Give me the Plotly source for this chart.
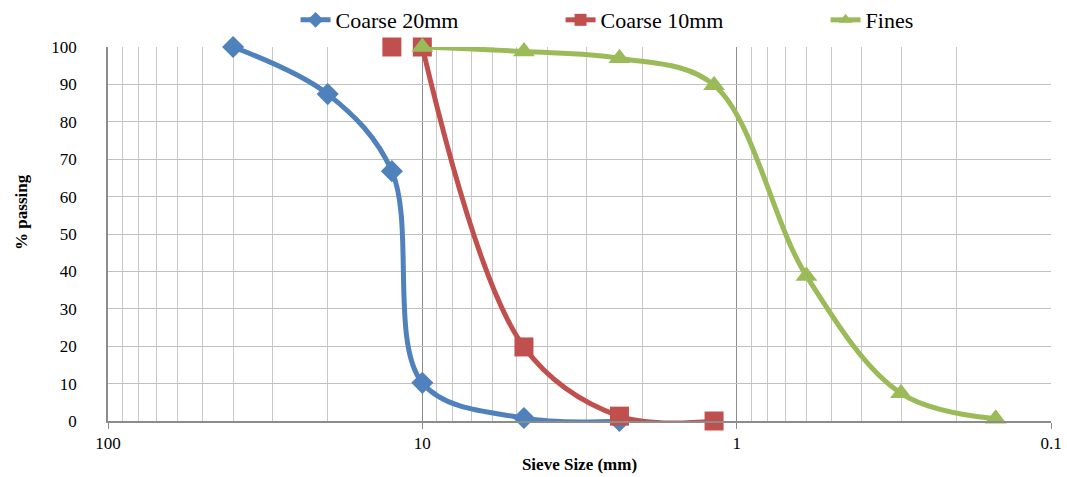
import plotly.graph_objects as go

# Data
sizes_c20 = [40, 20, 12.5, 10, 4.75, 2.36]
pass_c20 = [100, 87.4, 66.8, 10.2, 0.8, 0]

sizes_c10 = [12.5, None, 10, 4.75, 2.36, 1.18]
pass_c10 = [100, None, 100, 19.8, 1.3, 0]

sizes_fines = [10, 4.75, 2.36, 1.18, 0.6, 0.3, 0.15]
pass_fines = [100, 98.8, 97, 89.8, 38.8, 7.4, 0.6]

x_tick_vals = [100, 10, 1, 0.1]
x_tick_text = ["100", "10", "1", "0.1"]

FONT = "Liberation Serif"
BLUE = "#4F81BD"
RED = "#C0504D"
GREEN = "#9BBB59"

fig = go.Figure()
fig.add_trace(go.Scatter(
    x=sizes_c20, y=pass_c20, name="Coarse 20mm", mode="lines+markers",
    line=dict(color=BLUE, width=5, shape="spline", smoothing=1.0),
    marker=dict(symbol="diamond", size=17, color=BLUE), cliponaxis=False,
))
fig.add_trace(go.Scatter(
    x=sizes_c10, y=pass_c10, name="Coarse 10mm", mode="lines+markers",
    line=dict(color=RED, width=5, shape="spline", smoothing=1.0),
    marker=dict(symbol="square", size=19, color=RED),
    connectgaps=False, cliponaxis=False,
))
fig.add_trace(go.Scatter(
    x=sizes_fines, y=pass_fines, name="Fines", mode="lines+markers",
    line=dict(color=GREEN, width=5, shape="spline", smoothing=1.0),
    marker=dict(symbol="triangle-up", size=19, color=GREEN), cliponaxis=False,
))

minor_vals = [m * 10 ** e for e in (1, 0, -1) for m in range(2, 10)]

fig.update_layout(
    width=1067, height=477,
    paper_bgcolor="white", plot_bgcolor="white",
    margin=dict(l=108, r=16, t=47, b=56, autoexpand=False),
    font=dict(family=FONT, size=17, color="black"),
    legend=dict(orientation="h", x=0.277, xanchor="left", y=0.958, yanchor="middle",
                yref="container", xref="container",
                font=dict(family=FONT, size=22), itemsizing="constant",
                entrywidth=220, entrywidthmode="pixels",
                bgcolor="rgba(0,0,0,0)", traceorder="normal"),
    showlegend=True,
    annotations=[dict(text="<b>% passing</b>", textangle=-90, showarrow=False,
                      xref="paper", yref="paper", x=-0.0912, y=0.559,
                      xanchor="center", yanchor="middle",
                      font=dict(family=FONT, size=17))],
)
fig.update_xaxes(
    type="log", range=[2, -1], automargin=False,
    tickvals=x_tick_vals, ticktext=x_tick_text,
    showgrid=True, gridcolor="#8C8C8C", gridwidth=1,
    minor=dict(tickvals=minor_vals, showgrid=True, gridcolor="#C8C8C8", gridwidth=1, ticks=""),
    showline=True, linecolor="#8C8C8C", linewidth=1.5,
    ticks="outside", ticklen=6, tickcolor="#8C8C8C",
    tickfont=dict(family=FONT, size=17),
    title=dict(text="<b>Sieve Size (mm)</b>", font=dict(family=FONT, size=17), standoff=6),
    zeroline=False,
)
fig.update_yaxes(
    range=[0, 100], dtick=10, automargin=False,
    showgrid=True, gridcolor="#C0C0C0", gridwidth=1,
    showline=True, linecolor="#8C8C8C", linewidth=1.5,
    ticks="", ticklabelstandoff=26,
    tickfont=dict(family=FONT, size=17),
    zeroline=False,
)

fig.write_html("out.html", config={"displayModeBar": False},
               post_script="document.body.style.margin='0';document.body.style.overflow='hidden';")
